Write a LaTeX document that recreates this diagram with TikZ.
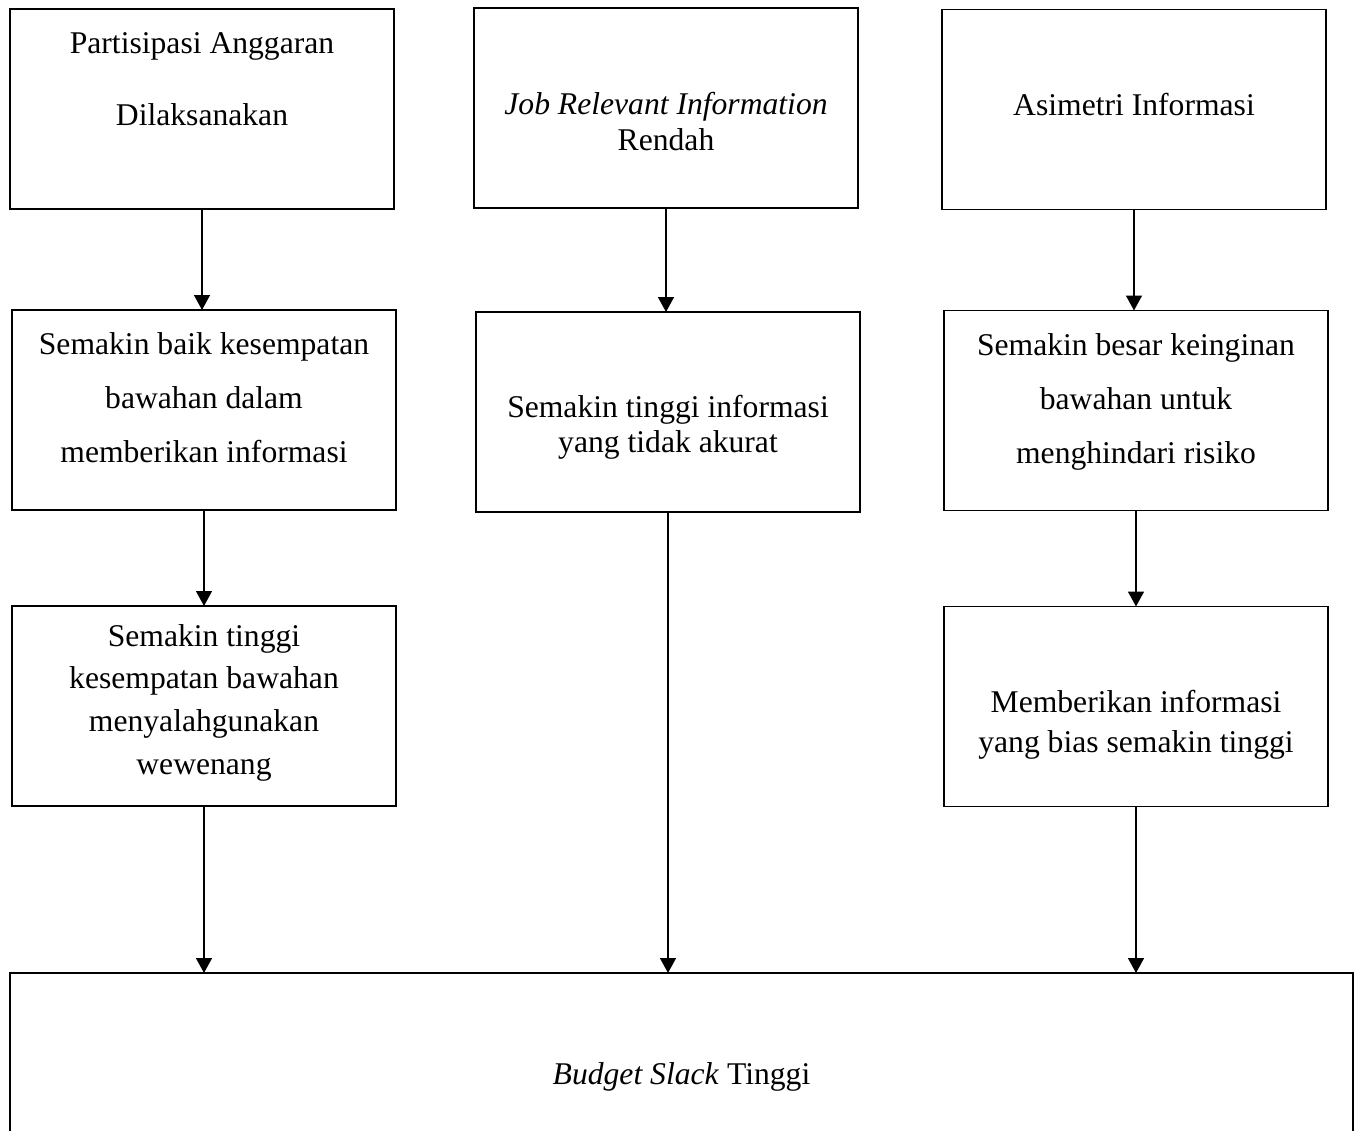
\documentclass[tikz,border=0pt]{standalone}
\usepackage{fontspec}
\setmainfont{Liberation Serif}
\usepackage{tikz}
\usetikzlibrary{positioning,arrows.meta}

\begin{document}
\begin{tikzpicture}[
  x=0.02cm, y=-0.02cm,
  box/.style={draw, line width=1.1pt, inner sep=0pt, outer sep=0pt,
    minimum width=384*0.02cm, minimum height=200*0.02cm},
  txt/.style={anchor=base, align=center, inner sep=0pt},
  arr/.style={-{Triangle[length=8.5pt, width=9pt]}, line width=1.1pt}]
\useasboundingbox (0,0) rectangle (1363,1131);
% boxes
\node[box] (part) at (202,109) {};
\node[box] (jri) at (666,108) {};
\node[box] (asim) at (1134,109.5) {};
\node[box] (kesbaik) at (204,410) {};
\node[box] (akurat) at (668,412) {};
\node[box] (risiko) at (1136,410.5) {};
\node[box] (wenang) at (204,706) {};
\node[box] (bias) at (1136,706.5) {};
\begin{scope}
\clip (0,0) rectangle (1363,1131);
\node[box, minimum width=1343*0.02cm] (slack) at (681.5,1073) {};
\end{scope}
% texts (anchored at the baseline of the last line)
\node[txt, font=\fontsize{18}{41.4}\selectfont] (part-t) at (202,126) {Partisipasi Anggaran\\Dilaksanakan};
\node[txt, font=\fontsize{18}{20.6}\selectfont] (jri-t) at (666,151) {\textit{Job Relevant Information}\\Rendah};
\node[txt, font=\fontsize{18}{20}\selectfont] (asim-t) at (1134,116) {Asimetri Informasi};
\node[txt, font=\fontsize{18}{31}\selectfont] (kesbaik-t) at (204,463) {Semakin baik kesempatan\\bawahan dalam\\memberikan informasi};
\node[txt, font=\fontsize{18}{20}\selectfont] (akurat-t) at (668,453) {Semakin tinggi informasi\\yang tidak akurat};
\node[txt, font=\fontsize{18}{31}\selectfont] (risiko-t) at (1136,464) {Semakin besar keinginan\\bawahan untuk\\menghindari risiko};
\node[txt, font=\fontsize{18}{24.2}\selectfont] (wenang-t) at (204,774) {Semakin tinggi\\kesempatan bawahan\\menyalahgunakan\\wewenang};
\node[txt, font=\fontsize{18}{22.7}\selectfont] (bias-t) at (1136,752) {Memberikan informasi\\yang bias semakin tinggi};
\node[txt, font=\fontsize{18}{20}\selectfont] (slack-t) at (681.5,1084) {\textit{Budget Slack} Tinggi};
% arrows
\draw[arr] (part.south) -- (part.south |- kesbaik.north);
\draw[arr] (jri.south) -- (jri.south |- akurat.north);
\draw[arr] (asim.south) -- (asim.south |- risiko.north);
\draw[arr] (kesbaik.south) -- (kesbaik.south |- wenang.north);
\draw[arr] (risiko.south) -- (risiko.south |- bias.north);
\draw[arr] (wenang.south) -- (wenang.south |- slack.north);
\draw[arr] (akurat.south) -- (akurat.south |- slack.north);
\draw[arr] (bias.south) -- (bias.south |- slack.north);
\end{tikzpicture}
\end{document}
